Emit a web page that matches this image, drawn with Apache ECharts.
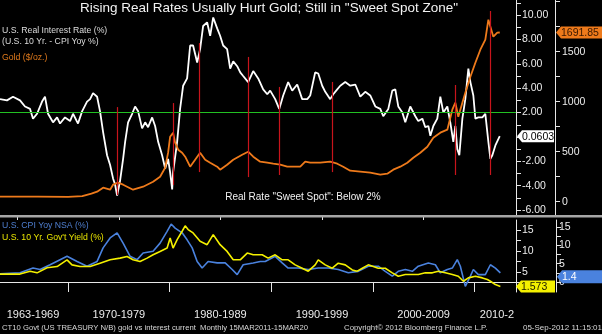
<!DOCTYPE html>
<html><head><meta charset="utf-8">
<script src="https://cdn.jsdelivr.net/npm/echarts@6/dist/echarts.min.js"></script>
<style>html,body{margin:0;padding:0;background:#000}#c{width:602px;height:334px}</style>
</head><body><div id="c"></div>
<script>
// ---------- data ----------
const rrYears = [1963.30,1963.99,1964.58,1965.27,1965.76,1966.26,1966.55,1966.95,1967.44,1967.73,
1968.03,1968.52,1968.92,1969.21,1969.70,1970.20,1970.49,1970.98,1971.38,1971.87,
1972.17,1972.46,1972.86,1973.15,1973.45,1973.84,1974.14,1974.43,1974.63,1974.83,
1975.12,1975.42,1975.62,1975.91,1976.31,1976.60,1976.90,1977.29,1977.59,1977.88,
1978.28,1978.57,1978.87,1979.26,1979.56,1979.85,1980.05,1980.25,1980.34,1980.74,
1981.03,1981.33,1981.72,1982.02,1982.31,1982.71,1983.00,1983.30,1983.69,1983.99,
1984.29,1984.68,1984.97,1985.27,1985.66,1985.96,1986.26,1986.65,1986.95,1987.24,
1987.73,1988.23,1988.72,1989.21,1989.61,1989.90,1990.39,1990.79,1991.18,1991.67,
1992.07,1992.56,1993.05,1993.55,1993.84,1994.33,1994.63,1995.02,1995.32,1995.81,
1996.11,1996.50,1996.80,1997.29,1997.78,1998.28,1998.77,1999.26,1999.75,2000.25,
2000.74,2001.03,2001.53,2001.92,2002.22,2002.51,2002.91,2003.20,2003.69,2004.19,
2004.48,2004.88,2005.17,2005.47,2005.67,2005.96,2006.35,2006.65,2006.95,2007.34,
2007.63,2007.93,2008.13,2008.32,2008.52,2008.82,2009.11,2009.41,2009.61,2009.90,
2010.10,2010.39,2010.79,2011.08,2011.38,2011.58,2011.77,2012.07,2012.50];
const rrValues = [3.1,3.0,3.3,3.0,2.5,2.3,1.5,1.9,2.9,3.3,
1.9,1.2,1.6,1.1,1.6,1.3,1.9,1.1,2.1,2.9,
3.1,3.6,3.3,2.1,0.4,-1.5,-2.3,-3.4,-3.9,-4.8,
-3.6,-1.8,-0.4,1.2,1.9,2.5,2.1,0.7,1.2,0.8,
1.6,0.9,-0.4,-1.5,-2.6,-1.8,-2.9,-4.3,-2.9,-0.4,
2.3,4.2,4.8,7.5,7.5,6.1,7.2,9.1,9.4,8.3,
9.8,8.9,8.3,7.5,7.2,5.6,6.2,5.8,5.3,5.0,
4.5,5.4,4.8,3.9,3.5,3.8,3.1,2.3,3.4,4.5,
3.8,4.3,3.1,3.1,3.4,5.3,5.2,4.2,3.7,3.1,
3.5,3.9,4.2,4.5,4.2,4.3,3.3,3.7,3.4,2.5,
2.3,1.7,2.3,3.8,3.9,2.5,2.0,1.2,2.5,1.7,
1.3,1.5,0.8,0.9,0.1,0.9,1.5,3.3,2.0,2.5,
1.2,-0.4,0.9,-1.0,-1.5,1.5,3.1,5.6,4.5,3.4,
1.5,1.6,1.6,1.9,-0.4,-1.8,-1.5,-0.7,0.0603];

const goldYears = [1963.3,1967.0,1970.0,1971.4,1972.3,1972.86,1973.45,1974.14,1974.43,1974.92,
1975.42,1976.4,1977.39,1978.37,1979.06,1979.56,1979.85,1980.05,1980.34,1980.54,
1980.84,1981.23,1981.53,1982.02,1982.51,1983.0,1983.5,1983.99,1984.68,1984.97,
1985.66,1986.26,1987.14,1987.73,1988.23,1988.92,1989.61,1990.2,1990.89,1991.58,
1992.17,1992.86,1993.35,1993.84,1994.83,1995.81,1996.5,1997.09,1997.78,1998.77,
1999.75,2000.74,2001.43,2002.02,2002.71,2003.4,2003.99,2004.68,2005.37,2005.96,
2006.65,2007.34,2007.83,2008.13,2008.42,2008.82,2009.11,2009.61,2010.1,2010.59,
2011.08,2011.38,2011.58,2011.87,2012.26,2012.5];
const goldValues = [50,50,48,55,80,100,140,120,170,190,
170,120,150,200,250,340,490,650,690,590,
520,490,450,350,420,490,420,390,350,320,
370,420,470,500,450,400,390,380,370,350,
350,350,400,390,390,400,380,350,310,300,
290,270,280,320,350,390,440,490,550,640,
690,720,920,990,850,990,1090,1250,1390,1520,
1620,1820,1750,1650,1690,1691.85];

const yldYears = [1963.3,1965.27,1966.26,1966.95,1967.93,1968.92,1969.9,1970.39,1971.18,1972.17,
1973.15,1974.14,1975.12,1975.81,1976.4,1977.09,1977.78,1978.37,1979.06,1979.75,
1980.05,1980.34,1980.74,1981.23,1981.53,1981.82,1982.31,1983.0,1983.69,1984.29,
1984.97,1985.66,1986.26,1986.95,1987.64,1988.23,1989.11,1989.7,1990.39,1991.08,
1991.67,1992.36,1993.05,1993.65,1994.33,1994.63,1995.32,1996.01,1996.6,1997.29,
1997.98,1998.47,1998.97,1999.56,2000.54,2001.23,2001.92,2002.51,2003.2,2003.89,
2004.48,2005.17,2005.86,2006.45,2007.14,2007.83,2008.42,2008.92,2009.41,2010.1,
2010.79,2011.28,2011.58,2012.07,2012.56];
const yldValues = [4.5,4.5,5.2,4.8,6.0,6.3,7.9,6.7,6.3,6.3,
7.1,7.9,8.3,8.7,7.9,7.5,8.3,9.1,9.9,10.7,
13.1,10.7,12.7,14.7,16.0,15.1,14.3,12.3,11.5,13.9,
11.5,9.9,7.9,7.9,9.5,9.1,9.1,8.3,9.1,7.9,
7.9,6.7,5.9,5.2,6.7,7.9,6.7,5.9,7.1,6.7,
5.5,5.2,5.9,6.7,5.9,5.9,4.8,4.0,4.4,4.4,
4.4,4.8,4.8,5.2,4.8,4.4,4.0,2.8,3.6,4.0,
3.6,3.2,2.8,2.0,1.573];

const cpiYears = [1963.3,1965.27,1966.55,1967.24,1968.23,1969.9,1970.89,1971.87,1972.86,1973.45,
1974.14,1974.83,1975.42,1976.11,1976.8,1977.39,1978.37,1979.06,1979.75,1980.15,
1980.54,1981.23,1981.72,1982.22,1982.71,1983.2,1983.79,1984.68,1985.47,1986.16,
1986.65,1987.24,1988.23,1988.92,1989.41,1990.39,1991.08,1991.67,1992.66,1993.65,
1994.63,1995.62,1996.6,1997.59,1998.57,1999.56,2000.54,2001.23,2001.92,2002.51,
2003.2,2003.89,2004.48,2005.47,2006.16,2006.65,2007.34,2007.83,2008.32,2008.62,
2009.11,2009.61,2009.9,2010.39,2011.08,2011.58,2012.07,2012.56];
const cpiValues = [2.2,2.5,3.8,3.4,4.7,7.0,5.6,4.3,5.6,9.3,
12.0,13.4,10.6,7.0,6.1,7.9,8.4,10.6,13.8,15.8,
14.7,13.4,11.5,9.3,5.6,3.8,5.6,5.2,5.2,3.4,
2.0,4.7,5.2,5.6,5.6,7.0,5.2,3.8,3.8,3.4,
3.8,3.8,3.4,2.5,2.9,4.3,4.3,2.9,1.6,2.9,
3.4,2.9,4.3,5.2,4.7,2.5,3.4,3.8,6.1,4.3,
-1.2,1.6,3.4,2.0,2.0,4.7,3.8,2.5];

// last-value tags
const rrLast = 0.0603, goldLast = 1691.85, cpiLast = 1.4, yldLast = 1.573;

// annotations
const sweetSpot = 2;
const redYears  = [1974.83,1980.34,1982.9,1987.73,1990.79,1996.0,2008.13,2011.58];
const redTop    = [2.45,2.78,7.7,6.56,4.1,4.51,4.26,10.33];
const redBottom = [-4.76,-3.94,-2.88,-3.29,-3.12,-2.88,-3.12,-3.12];

// axis labels
const xLabelPos  = [1966.55,1975,1985,1995,2005,2012.22];
const xLabelText = ['1963-1969','1970-1979','1980-1989','1990-1999','2000-2009','2010-2'];
const decadeTicks = [1970,1980,1990,2000,2010];
const halfTicks = [1965,1975,1985,1995,2005];
const rrLabelVals = [-6,-4,-2,2,4,6,8,10];
const rrTickVals = [-6,-5,-4,-3,-2,-1,0,1,2,3,4,5,6,7,8,9,10,11];
const goldLabelVals = [0,500,1000,1500];
const goldTickVals = [0,250,500,750,1000,1250,1500,1750,2000];
const yldLabelVals = [5,10,15];
const cpiLabelVals = [0,5,10,15];
const lowTickVals = [0,2.5,5,7.5,10,12.5,15];

// ---------- chart ----------
const X_MIN = 1963.3, X_MAX = 2014.1;
const pairs = (xs, ys) => xs.map((x, i) => [x, ys[i]]);
const AX = '#e6e6e6';
const FONT = 'Liberation Sans';

const redLines = redYears.map((y, i) => [{coord:[y, redTop[i]]}, {coord:[y, redBottom[i]]}]);

function rightAxis(grid, offset, min, max, ticks, labels, fmt, margin) {
  return {gridIndex:grid, type:'value', position:'right', offset:offset, min:min, max:max,
    axisLine:{show:true, lineStyle:{color:AX, width:1}},
    axisTick:{show:true, customValues:ticks, length:5, lineStyle:{color:AX}},
    axisLabel:{customValues:labels, formatter:fmt, color:'#ececec', fontSize:10.5, fontFamily:FONT, margin:margin},
    splitLine:{show:false}};
}

const option = {
  backgroundColor:'#000',
  animation:false,
  textStyle:{fontFamily:FONT},
  grid:[{left:0, top:0, width:516, height:215}, {left:0, top:220, width:516, height:72}],
  xAxis:[
    {gridIndex:0, type:'value', min:X_MIN, max:X_MAX, show:false},
    {gridIndex:1, type:'value', min:X_MIN, max:X_MAX,
     axisLine:{show:true, lineStyle:{color:AX, width:1}},
     axisTick:{show:true, customValues:decadeTicks, length:10, lineStyle:{color:AX}},
     axisLabel:{customValues:xLabelPos, color:'#ececec', fontSize:11, fontFamily:FONT, margin:17,
       formatter:function(v){let k=0,d=1e9;xLabelPos.forEach((p,i)=>{if(Math.abs(p-v)<d){d=Math.abs(p-v);k=i;}});return xLabelText[k];}},
     splitLine:{show:false}},
    {gridIndex:1, type:'value', min:X_MIN, max:X_MAX,
     axisLine:{show:false}, axisLabel:{show:false}, splitLine:{show:false},
     axisTick:{show:true, customValues:halfTicks, length:3, lineStyle:{color:AX}}}
  ],
  yAxis:[
    rightAxis(0, 0, -6.40, 11.23, rrTickVals, rrLabelVals, v => v.toFixed(2), 6),
    rightAxis(0, 39, -133, 2017, goldTickVals, goldLabelVals, v => String(v), 7),
    rightAxis(1, 0, 0.24, 17.38, lowTickVals, yldLabelVals, v => String(v), 6),
    rightAxis(1, 40, -2.73, 16.9, lowTickVals, cpiLabelVals, v => String(v), 3)
  ],
  series:[
    {type:'line', xAxisIndex:0, yAxisIndex:0, data:pairs(rrYears, rrValues), showSymbol:false,
     lineStyle:{color:'#ffffff', width:1.8}, z:3,
     markLine:{silent:true, symbol:'none', label:{show:false},
       lineStyle:{color:'#22c022', width:1, type:'solid'},
       data:[{yAxis:sweetSpot}]}},
    {type:'line', xAxisIndex:0, yAxisIndex:0, data:[], showSymbol:false, z:2,
     markLine:{silent:true, symbol:'none', label:{show:false},
       lineStyle:{color:'#c8141c', width:1.2, type:'solid'}, data:redLines}},
    {type:'line', xAxisIndex:0, yAxisIndex:1, data:pairs(goldYears, goldValues), showSymbol:false,
     lineStyle:{color:'#ee7a1b', width:1.8}, z:4},
    {type:'line', xAxisIndex:1, yAxisIndex:3, data:pairs(cpiYears, cpiValues), showSymbol:false,
     lineStyle:{color:'#4a82de', width:1.6}, z:3},
    {type:'line', xAxisIndex:1, yAxisIndex:2, data:pairs(yldYears, yldValues), showSymbol:false,
     lineStyle:{color:'#f4f000', width:1.6}, z:4}
  ]
};

const chart = echarts.init(document.getElementById('c'));
chart.setOption(option);

function txt(x, y, text, size, color, align) {
  return {type:'text', x:x, y:y, z:50, style:{text:text, fill:color, font:size+'px "'+FONT+'"',
    textAlign:align||'left', textVerticalAlign:'middle', align:align||'left', verticalAlign:'middle'}};
}
function tag(x0, x1, y, h, bg, fg, text) {
  return {type:'group', z:60, children:[
    {type:'polygon', z:60, shape:{points:[[x0,y],[x0+5,y-h/2],[x1,y-h/2],[x1,y+h/2],[x0+5,y+h/2]]}, style:{fill:bg}},
    {type:'text', z:61, x:x0+5, y:y+0.5, style:{text:text, fill:fg, font:'10.5px "'+FONT+'"',
      textAlign:'left', textVerticalAlign:'middle', align:'left', verticalAlign:'middle'}}
  ]};
}
const axX = chart.convertToPixel({xAxisIndex:0}, X_MAX);
const graphics = [
  {type:'rect', z:40, shape:{x:0, y:215, width:602, height:2.5}, style:{fill:'#a6a6a6'}},
  txt(269, 8, 'Rising Real Rates Usually Hurt Gold; Still in "Sweet Spot Zone"', 13.5, '#f2f2f2', 'center'),
  txt(2, 31, 'U.S. Real Interest Rate (%)', 8.7, '#dcdcdc'),
  txt(2, 42, '(U.S. 10 Yr. - CPI Yoy %)', 8.7, '#dcdcdc'),
  txt(2, 58, 'Gold ($/oz.)', 8.7, '#e07a1c'),
  txt(303, 197, 'Real Rate "Sweet Spot": Below 2%', 10, '#f0f0f0', 'center'),
  txt(2, 226, 'U.S. CPI Yoy NSA (%)', 8.7, '#4f7fd0'),
  txt(2, 238, "U.S. 10 Yr. Gov't Yield (%)", 8.7, '#e8e400'),
  txt(2, 328, 'CT10 Govt (US TREASURY N/B) gold vs interest current  Monthly 15MAR2011-15MAR20', 7.7, '#d8d8d8'),
  txt(344, 328, 'Copyright\u00a9 2012 Bloomberg Finance L.P.', 7.8, '#d8d8d8'),
  txt(602, 328, '05-Sep-2012 11:15:01', 8, '#d8d8d8', 'right'),
  tag(axX+1, axX+38, chart.convertToPixel({yAxisIndex:0}, rrLast), 12, '#ffffff', '#000000', String(rrLast)),
  tag(axX+40, 602, chart.convertToPixel({yAxisIndex:1}, goldLast), 12, '#ee7a1b', '#3a1800', goldLast.toFixed(2)),
  tag(axX, axX+39, chart.convertToPixel({yAxisIndex:2}, yldLast), 12, '#f4f000', '#222200', String(yldLast)),
  tag(axX+41, 602, chart.convertToPixel({yAxisIndex:3}, cpiLast), 13, '#4a82de', '#ffffff', String(cpiLast))
];
chart.setOption({graphic:graphics});
</script>
</body></html>
